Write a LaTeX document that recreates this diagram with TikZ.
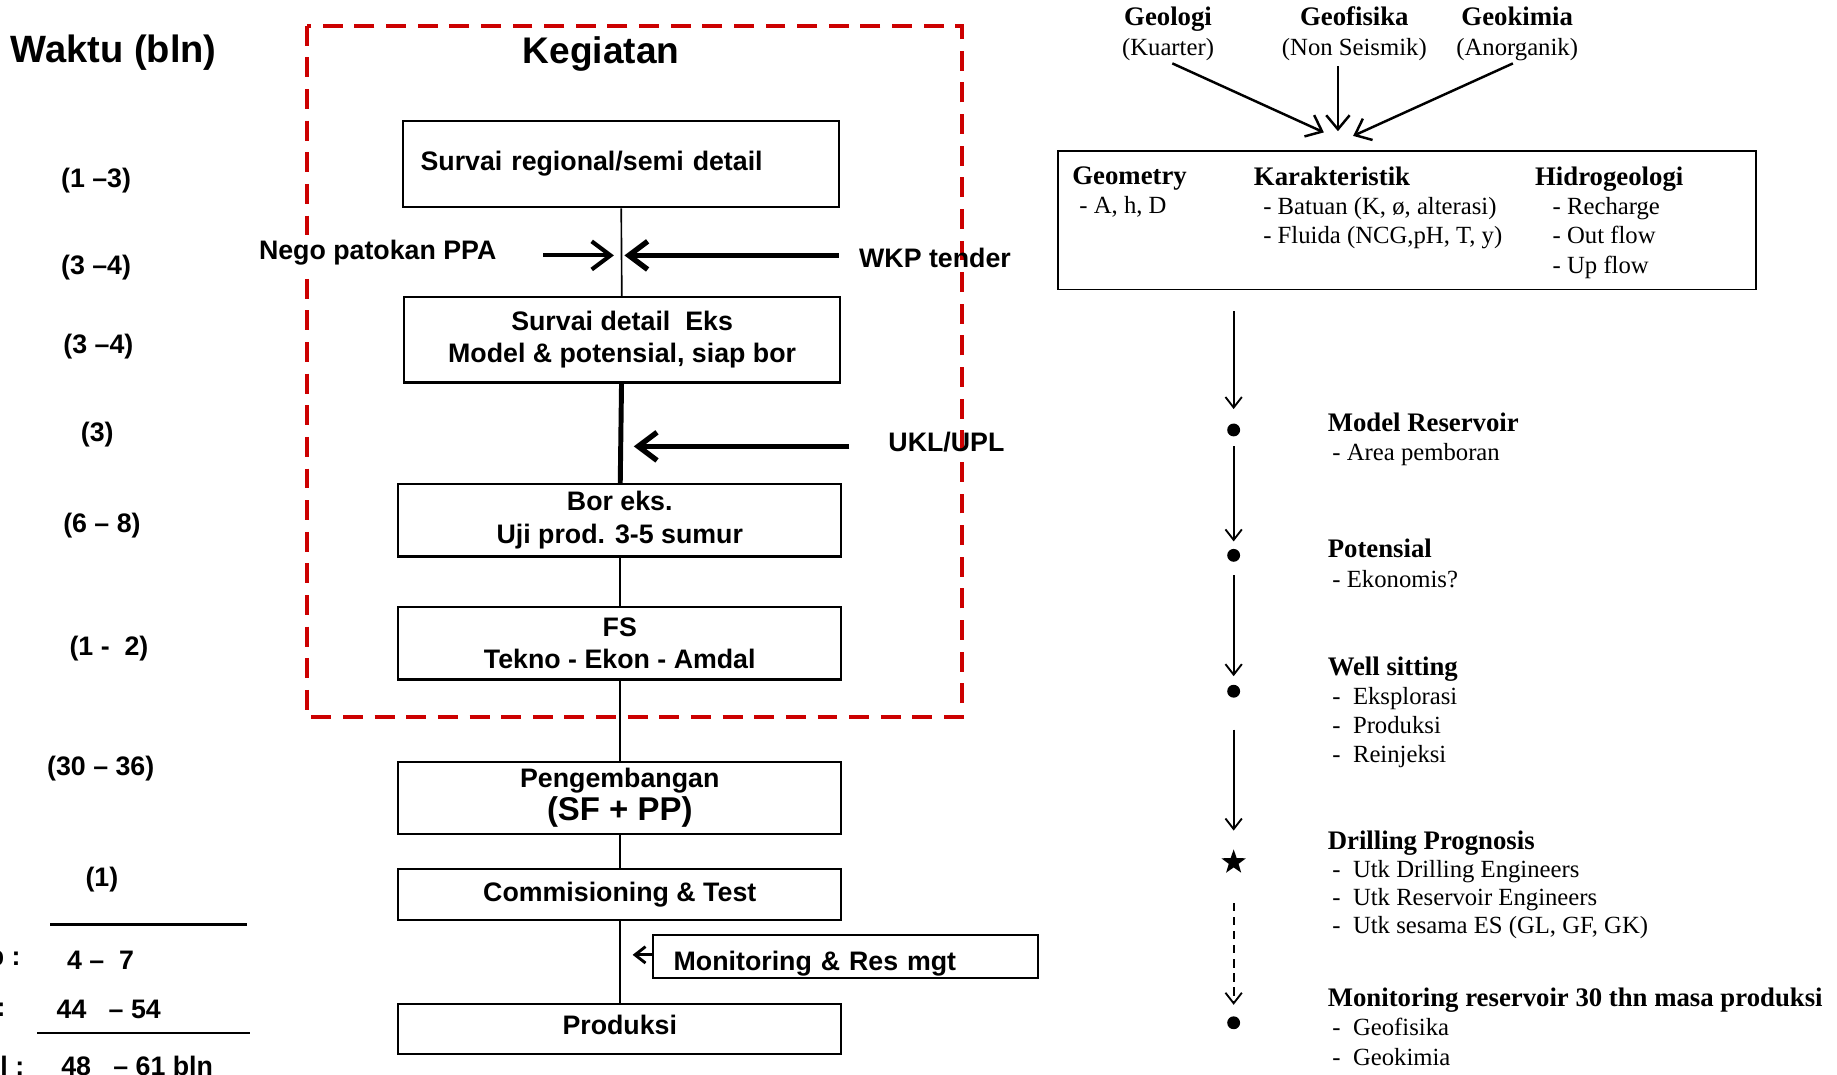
\documentclass[tikz,border=0pt]{standalone}
\usepackage{fontspec}
\setmainfont{Liberation Sans}
\newfontfamily\timesfont{Liberation Serif}
\usepackage{xcolor}
\usetikzlibrary{positioning,arrows.meta,shapes.geometric}
\definecolor{framered}{RGB}{204,0,0}

\begin{document}
\begin{tikzpicture}[x=0.02cm, y=-0.02cm, >={Straight Barb[length=1.8mm,width=2.8mm]}]
    \tikzstyle{block}=[rectangle, draw, line width=1pt, inner sep=0pt, align=center, minimum width=7.56cm, minimum height=1.24cm, font=\fontsize{13}{15.8}\selectfont\bfseries]
    \tikzstyle{lbl}=[inner sep=0pt, font=\fontsize{13}{15.8}\selectfont\bfseries]
    \tikzstyle{title}=[inner sep=0pt, font=\fontsize{18.5}{22}\selectfont\bfseries]
    \tikzstyle{src}=[inner sep=0pt, align=center, font=\timesfont\fontsize{13}{14.7}\selectfont\bfseries]
    \tikzstyle{info}=[anchor=north west, inner sep=0pt, align=left, font=\timesfont\fontsize{12}{14.2}\selectfont]
    \tikzstyle{dot}=[circle, fill, inner sep=0pt, minimum size=0.22cm]
    \tikzstyle{bigtip}=[>={Straight Barb[length=3.2mm,width=4.8mm]}]

    \useasboundingbox (0,0) rectangle (1568,917);

    \draw[framered, line width=1.7pt, dash pattern=on 0.34cm off 0.2cm] (262,22) rectangle (821,612);

    \node[title] (waktu) at (97,45) {Waktu (bln)};
    \node[title, font=\fontsize{18}{22}\selectfont\bfseries] (kegiatan) at (513,46) {Kegiatan};

    % waktu per kegiatan
    \node[lbl] (t1) at (82,154) {(1 –3)};
    \node[lbl] (t2) at (82,228) {(3 –4)};
    \node[lbl] (t3) at (84,296) {(3 –4)};
    \node[lbl] (t4) at (83,371) {(3)};
    \node[lbl] (t5) at (87,449) {(6 – 8)};
    \node[lbl] (t6) at (93,554) {(1\ -\ \ 2)};
    \node[lbl] (t7) at (86,656) {(30 – 36)};
    \node[lbl] (t8) at (87,751) {(1)};
    \draw[line width=1.8pt] (43,789) -- (211,789);
    \node[lbl, anchor=east] (sum1) at (18,820) {p :};
    \node[lbl, anchor=west] (val1) at (57,820) {4 –\ \ 7};
    \node[lbl, anchor=east] (sum2) at (5,862) {:};
    \node[lbl, anchor=west] (val2) at (48,862) {44\ \ \ – 54};
    \draw[line width=0.9pt] (32,882) -- (213,882);
    \node[lbl, anchor=east] (sum3) at (21,910) {l :};
    \node[lbl, anchor=west] (val3) at (52,910) {48\ \ \ – 61 bln};

    % kegiatan
    \node[block, minimum width=7.44cm, minimum height=1.48cm, text width=6.84cm, align=left] (survai) at (530,140) {Survai regional/semi detail};
    \node[block, minimum width=7.44cm, minimum height=1.46cm] (detail) at (531,290) {Survai detail\ \ Eks\\Model \& potensial, siap bor};
    \node[block] (boreks) at (529,444) {Bor eks.\\Uji prod. 3-5 sumur};
    \node[block] (fs) at (529,549) {FS\\Tekno - Ekon - Amdal};
    \node[block] (kembang) at (529,681) {Pengembangan\\{\fontsize{16}{18}\selectfont (SF + PP)}};
    \node[block, minimum height=0.86cm] (commis) at (529,763.5) {Commisioning \& Test};
    \node[block, minimum height=0.86cm, text height=0.33cm, text depth=0.16cm] (produksi) at (529,878.5) {Produksi};
    \node[block, minimum width=6.58cm, minimum height=0.74cm, text width=5.86cm, align=left, text height=0.58cm, text depth=0.1cm] (monit) at (721.5,816.5) {Monitoring \& Res mgt};

    \node[lbl, anchor=west, fill=white, inner sep=1pt] (nego) at (219,216) {Nego patokan PPA};
    \node[lbl, anchor=west] (wkp) at (733,220) {WKP tender};
    \node[lbl, anchor=west] (ukl) at (758,377) {UKL/UPL};

    \coordinate (j12) at (530,218);
    \coordinate (j23) at (529,381);
    \coordinate (j78) at (529,815);

    \draw[line width=0.8pt] (survai) -- (detail);
    \draw[line width=2.4pt] (detail) -- (boreks);
    \draw[line width=0.8pt] (boreks) -- (fs);
    \draw[line width=0.8pt] (fs) -- (kembang);
    \draw[line width=0.8pt] (kembang) -- (commis);
    \draw[line width=0.8pt] (commis) -- (produksi);

    \draw[->, bigtip, line width=2pt, shorten <=0.76cm, shorten >=0.12cm] (nego.east |- j12) -- (j12);
    \draw[->, bigtip, line width=2.6pt, shorten <=0.34cm, shorten >=0.06cm] (wkp.west |- j12) -- (j12);
    \draw[->, bigtip, line width=2.6pt, shorten <=0.66cm, shorten >=0.24cm] (ukl.west |- j23) -- (j23);
    \draw[->, line width=1.4pt, shorten >=0.22cm] (monit.west |- j78) -- (j78);

    % sumber data
    \node[src] (geologi) at (997,29) {Geologi\\{\mdseries\fontsize{12}{14.7}\selectfont (Kuarter)}};
    \node[src] (geofis) at (1156,29) {Geofisika\\{\mdseries\fontsize{12}{14.7}\selectfont (Non Seismik)}};
    \node[src] (geokim) at (1295,29) {Geokimia\\{\mdseries\fontsize{12}{14.7}\selectfont (Anorganik)}};

    \node[draw, line width=0.8pt, minimum width=11.92cm, minimum height=2.36cm] (faktor) at (1201,188) {};
    \node[info] (geom) at (915,142) {{\bfseries\fontsize{13}{14.2}\selectfont Geometry}\\\hspace{0.12cm}- A, h, D};
    \node[info] (karak) at (1070,142) {{\bfseries\fontsize{13}{14.2}\selectfont Karakteristik}\\\hspace{0.16cm}- Batuan (K, ø, alterasi)\\\hspace{0.16cm}- Fluida (NCG,pH, T, y)};
    \node[info] (hidro) at (1310,142) {{\bfseries\fontsize{13}{14.2}\selectfont Hidrogeologi}\\\hspace{0.3cm}- Recharge\\\hspace{0.3cm}- Out flow\\\hspace{0.3cm}- Up flow};

    \coordinate (ta) at (1130,113);
    \coordinate (tb) at (1142,112);
    \coordinate (tc) at (1155,116);
    \draw[->, line width=1.2pt, >={Straight Barb[length=2.4mm,width=4mm]}, shorten <=0.08cm] (geologi.south) -- (ta);
    \draw[->, line width=1.2pt, >={Straight Barb[length=2.4mm,width=4mm]}, shorten <=0.08cm] (geofis.south -| tb) -- (tb);
    \draw[->, line width=1.2pt, >={Straight Barb[length=2.4mm,width=4mm]}, shorten <=0.08cm] (geokim.south) -- (tc);

    % tahapan
    \node[dot] (d1) at (1053,367) {};
    \node[dot] (d2) at (1053,474) {};
    \node[dot] (d3) at (1053,590) {};
    \node[star, star points=5, star point ratio=2.5, fill, inner sep=0pt, minimum size=0.44cm] (st) at (1053,736) {};
    \node[dot] (d4) at (1053,873) {};

    \draw[->, line width=0.9pt, shorten <=0.36cm, shorten >=0.24cm] (faktor.south -| d1) -- (d1);
    \draw[->, line width=0.9pt, shorten <=0.16cm, shorten >=0.12cm] (d1) -- (d2);
    \draw[->, line width=0.9pt, shorten <=0.22cm, shorten >=0.14cm] (d2) -- (d3);
    \draw[->, line width=0.9pt, shorten <=0.54cm, shorten >=0.3cm] (d3) -- (st);
    \draw[->, line width=0.9pt, dash pattern=on 0.14cm off 0.1cm, shorten <=0.6cm, shorten >=0.19cm] (st) -- (d4);

    \node[info] (model) at (1133,352) {{\bfseries\fontsize{13}{14.2}\selectfont Model Reservoir}\\\hspace{0.08cm}- Area pemboran};
    \node[info] (potensi) at (1133,460) {{\bfseries\fontsize{13}{14.2}\selectfont Potensial}\\\hspace{0.08cm}- Ekonomis?};
    \node[info] (well) at (1133,560) {{\bfseries\fontsize{13}{14.2}\selectfont Well sitting}\\\hspace{0.08cm}-\ \ Eksplorasi\\\hspace{0.08cm}-\ \ Produksi\\\hspace{0.08cm}-\ \ Reinjeksi};
    \node[info, font=\timesfont\fontsize{12}{13.6}\selectfont] (prognosis) at (1133,709) {{\bfseries\fontsize{13}{14.2}\selectfont Drilling Prognosis}\\\hspace{0.08cm}-\ \ Utk Drilling Engineers\\\hspace{0.08cm}-\ \ Utk Reservoir Engineers\\\hspace{0.08cm}-\ \ Utk sesama ES (GL, GF, GK)};
    \node[info] (monres) at (1133,843) {{\bfseries\fontsize{13}{14.2}\selectfont Monitoring reservoir 30 thn masa produksi}\\\hspace{0.08cm}-\ \ Geofisika\\\hspace{0.08cm}-\ \ Geokimia};
\end{tikzpicture}
\end{document}
